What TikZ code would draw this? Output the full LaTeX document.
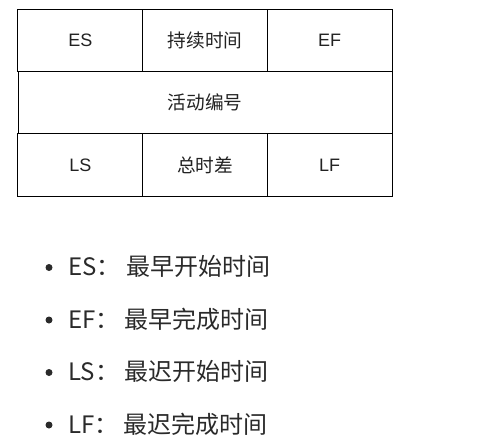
\documentclass[tikz,border=0pt]{standalone}
\usepackage{fontspec}
\setmainfont{Liberation Sans}
\newfontfamily\cjk{Noto Sans CJK SC}
\definecolor{txt}{HTML}{2A2A2A}
\definecolor{celltxt}{HTML}{222222}
\newcommand{\fwc}{：\hspace{4pt}}
\begin{document}
\begin{tikzpicture}[x=0.75pt,y=-0.75pt,
  cell/.style={draw=black, line width=0.75pt, inner sep=0pt, outer sep=0pt,
    minimum width=93.5pt, minimum height=46.75pt, text=celltxt},
  wide/.style={cell, minimum width=280.5pt},
  lat/.style={font=\fontsize{13.5pt}{15pt}\selectfont},
  han/.style={font=\cjk\fontsize{14pt}{16pt}\selectfont},
  bulletdot/.style={circle, fill=txt, inner sep=0pt, minimum size=5.25pt},
  listitem/.style={anchor=base west, inner sep=0pt, text=txt,
    font=\cjk\fontsize{18pt}{20pt}\selectfont}]
\useasboundingbox (0,0) rectangle (499,447);
% table
\node[cell, lat] (es) at (80.33,40.17) {ES};
\node[cell, han] (dur) at (205,40.17) {持续时间};
\node[cell, lat] (ef) at (329.67,40.17) {EF};
\node[wide, han] (act) at (205,102.5) {活动编号};
\node[cell, lat] (ls) at (80.33,164.83) {LS};
\node[cell, han] (slack) at (205,164.83) {总时差};
\node[cell, lat] (lf) at (329.67,164.83) {LF};
% list
\node[bulletdot] (b1) at (49,267.5) {};
\node[listitem] (i1) at (68,275.5) {ES\fwc 最早开始时间};
\node[bulletdot] (b2) at (49,320) {};
\node[listitem] (i2) at (68,328) {EF\fwc 最早完成时间};
\node[bulletdot] (b3) at (49,372.5) {};
\node[listitem] (i3) at (68,380.5) {LS\fwc 最迟开始时间};
\node[bulletdot] (b4) at (49,425) {};
\node[listitem] (i4) at (68,433) {LF\fwc 最迟完成时间};
\end{tikzpicture}
\end{document}
